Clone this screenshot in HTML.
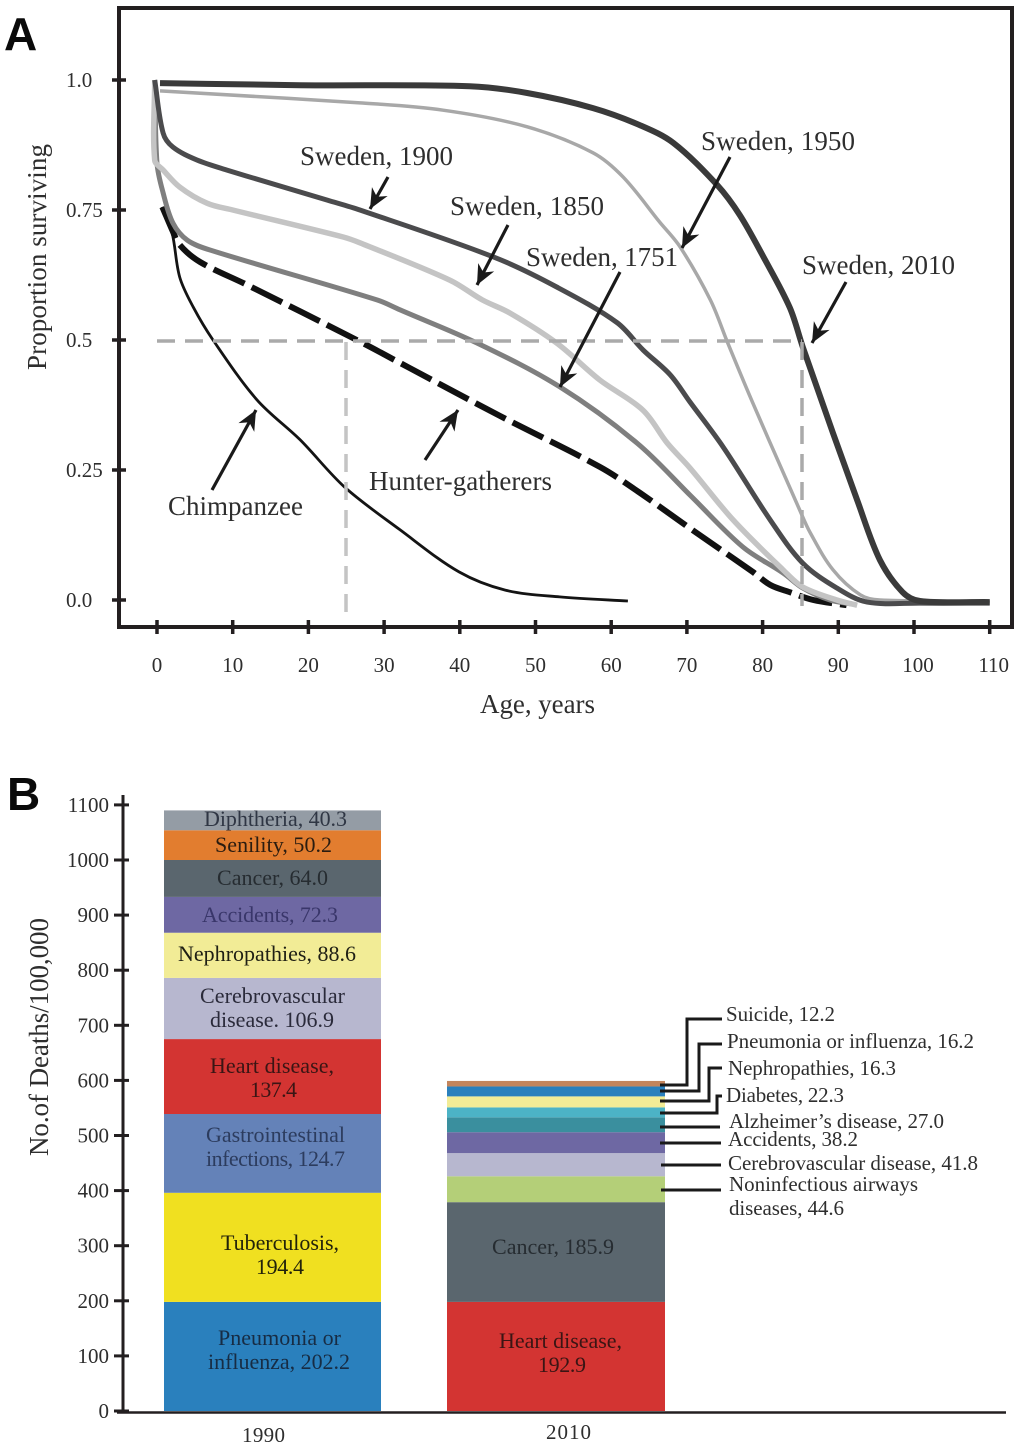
<!DOCTYPE html>
<html lang="en">
<head>
<meta charset="utf-8">
<title>Survival curves and causes of death</title>
<style>
html,body{margin:0;padding:0;background:#fff;}
svg{display:block;}
text{font-family:"Liberation Serif",serif;fill:#2e2e2e;}
.panel{font-family:"Liberation Sans",sans-serif;font-weight:bold;font-size:46px;fill:#0a0a0a;}
.lab{font-size:27px;}
.tick{font-size:21px;}
.bl{font-size:22px;}
.ann{font-size:21px;}
</style>
</head>
<body>
<svg id="fig" xmlns="http://www.w3.org/2000/svg" width="1020" height="1449" viewBox="0 0 1020 1449">
<defs>
<marker id="ah" markerUnits="userSpaceOnUse" markerWidth="26" markerHeight="22" refX="22" refY="11" orient="auto">
<path d="M22 11 L2 2 L8 11 L2 20 Z" fill="#1a1a1a"/>
</marker>
</defs>
<rect width="1020" height="1449" fill="#fff"/>

<text class="panel" x="4" y="50">A</text>
<text class="panel" x="7" y="810">B</text>

<!-- Panel A -->
<g id="panelA">
<rect x="119" y="8" width="893" height="619" fill="none" stroke="#231f20" stroke-width="4"/>
<g id="aTicks"></g>
<g id="aCurves"></g>
<line x1="157" y1="341" x2="802" y2="341" stroke="#aaa" stroke-width="3.5" stroke-dasharray="18 10"/>
<line x1="346" y1="342" x2="346" y2="612" stroke="#c4c4c4" stroke-width="3.5" stroke-dasharray="18 10"/>
<line x1="802" y1="342" x2="802" y2="606" stroke="#aaa" stroke-width="3.5" stroke-dasharray="18 10"/>

<g stroke="#1a1a1a" stroke-width="3.2">
<line x1="388" y1="177" x2="370" y2="209" marker-end="url(#ah)"/>
<line x1="508" y1="225" x2="477" y2="285" marker-end="url(#ah)"/>
<line x1="620" y1="272" x2="560" y2="387" marker-end="url(#ah)"/>
<line x1="730" y1="157" x2="682" y2="248" marker-end="url(#ah)"/>
<line x1="846" y1="282" x2="812" y2="343" marker-end="url(#ah)"/>
<line x1="425" y1="460" x2="458" y2="410" marker-end="url(#ah)"/>
<line x1="212" y1="490" x2="256" y2="410" marker-end="url(#ah)"/>
</g>

<text class="lab" x="300" y="165" textLength="153">Sweden, 1900</text>
<text class="lab" x="450" y="215" textLength="154">Sweden, 1850</text>
<text class="lab" x="526" y="266" textLength="152">Sweden, 1751</text>
<text class="lab" x="701" y="150" textLength="154">Sweden, 1950</text>
<text class="lab" x="802" y="274" textLength="153">Sweden, 2010</text>
<text class="lab" x="168" y="515" textLength="135">Chimpanzee</text>
<text class="lab" x="369" y="490" textLength="183">Hunter-gatherers</text>
<text class="lab" x="480" y="713" textLength="115">Age, years</text>
<text class="lab" transform="translate(46,370) rotate(-90)" textLength="226">Proportion surviving</text>
</g>

<!-- Panel B -->
<g id="panelB">
<g id="bBars"></g>
<g id="bTicks"></g>
<text class="lab" transform="translate(48,1156) rotate(-90)" textLength="238">No.of Deaths/100,000</text>
<text class="tick" x="242" y="1442" textLength="43">1990</text>
<text class="tick" x="546" y="1439" textLength="45">2010</text>

<g>
<text class="bl" style="fill:#2f3644" x="204" y="826" textLength="143">Diphtheria, 40.3</text>
<text class="bl" style="fill:#2a1c10" x="215" y="852" textLength="117">Senility, 50.2</text>
<text class="bl" style="fill:#262c31" x="217" y="885" textLength="111">Cancer, 64.0</text>
<text class="bl" style="fill:#39366a" x="202" y="922" textLength="136">Accidents, 72.3</text>
<text class="bl" style="fill:#1f1f14" x="178" y="961" textLength="178">Nephropathies, 88.6</text>
<text class="bl" style="fill:#2a2a3a" x="200" y="1003" textLength="145">Cerebrovascular</text>
<text class="bl" style="fill:#2a2a3a" x="210" y="1027" textLength="124">disease. 106.9</text>
<text class="bl" style="fill:#3a1514" x="210" y="1073" textLength="124">Heart disease,</text>
<text class="bl" style="fill:#3a1514" x="250" y="1097" textLength="47">137.4</text>
<text class="bl" style="fill:#2c3c5e" x="206" y="1142" textLength="139">Gastrointestinal</text>
<text class="bl" style="fill:#2c3c5e" x="206" y="1166" textLength="139">infections, 124.7</text>
<text class="bl" style="fill:#22220a" x="221" y="1250" textLength="118">Tuberculosis,</text>
<text class="bl" style="fill:#22220a" x="256" y="1274" textLength="48">194.4</text>
<text class="bl" style="fill:#172c44" x="218" y="1345" textLength="123">Pneumonia or</text>
<text class="bl" style="fill:#172c44" x="208" y="1369" textLength="142">influenza, 202.2</text>
</g>
<g>
<text class="bl" style="fill:#262c31" x="492" y="1254" textLength="122">Cancer, 185.9</text>
<text class="bl" style="fill:#3a1514" x="499" y="1348" textLength="123">Heart disease,</text>
<text class="bl" style="fill:#3a1514" x="538" y="1372" textLength="48">192.9</text>
</g>

<g fill="none" stroke="#1a1a1a" stroke-width="3">
<path d="M660 1085H687V1019H722"/>
<path d="M660 1091H699V1044H722"/>
<path d="M660 1101H709V1068H722"/>
<path d="M660 1113H717V1096H722"/>
<path d="M660 1127H720"/>
<path d="M660 1143H721"/>
<path d="M661 1165H721"/>
<path d="M661 1190H721"/>
</g>
<g>
<text class="ann" x="726" y="1021" textLength="109">Suicide, 12.2</text>
<text class="ann" x="727" y="1048" textLength="247">Pneumonia or influenza, 16.2</text>
<text class="ann" x="728" y="1075" textLength="168">Nephropathies, 16.3</text>
<text class="ann" x="726" y="1102" textLength="118">Diabetes, 22.3</text>
<text class="ann" x="729" y="1128" textLength="215">Alzheimer’s disease, 27.0</text>
<text class="ann" x="728" y="1146" textLength="130">Accidents, 38.2</text>
<text class="ann" x="728" y="1170" textLength="250">Cerebrovascular disease, 41.8</text>
<text class="ann" x="729" y="1191" textLength="189">Noninfectious airways</text>
<text class="ann" x="729" y="1215" textLength="115">diseases, 44.6</text>
</g>
</g>
</svg>

<script>
// Panel A data: age (years) and proportion surviving
const ageTicks = [0,10,20,30,40,50,60,70,80,90,100,110];
const survivalTicks = [1,0.75,0.5,0.25,0];
const survivalTickLabels = ["1.0","0.75","0.5","0.25","0.0"];

const chimpAges = [0.7,2,3,4.8,7.4,13.2,18.9,24.8,32.1,39.9,46,53.2,62.2];
const chimpValues = [0.756,0.706,0.621,0.563,0.5,0.385,0.308,0.217,0.135,0.054,0.019,0.006,-0.002];

const hunterAges = [0.7,2,3,5.7,11.9,26.4,32.1,45.3,58.5,63.8,70.4,78.7,81,83.6,86.7,91.1];
const hunterValues = [0.756,0.712,0.683,0.65,0.606,0.5,0.456,0.354,0.256,0.206,0.138,0.054,0.029,0.015,0,-0.01];

const s1751Ages = [-0.3,0,0.8,2.1,4,7,29.1,32.1,42.3,53.2,63.4,70.4,77.4,82.7,85.3,88.9,91.9];
const s1751Values = [1,0.84,0.783,0.725,0.692,0.673,0.577,0.558,0.494,0.41,0.302,0.202,0.102,0.052,0.023,0,-0.008];

const s1850Ages = [-0.3,-0.3,0.8,3,6.6,10,24.6,26.8,38.7,43,46.6,52.8,58.5,64.2,67.4,70.4,76.1,82.7,85.3,89.8,92.5];
const s1850Values = [1,0.846,0.827,0.794,0.763,0.75,0.698,0.687,0.615,0.577,0.552,0.494,0.423,0.365,0.302,0.254,0.154,0.058,0.025,0,-0.01];

const s1900Ages = [-0.3,0.8,2.1,5.3,9.2,22.5,26.8,44.4,52.8,60.8,64.2,67.8,70.4,74.8,81,85.3,89.8,93.8,100.8,110];
const s1900Values = [1,0.898,0.871,0.846,0.827,0.769,0.75,0.66,0.602,0.533,0.481,0.433,0.381,0.294,0.154,0.071,0.023,-0.004,-0.006,-0.006];

const s1950Ages = [0.4,26.8,37.8,48.9,57.6,61.6,66.4,69.1,73.1,75.4,78.7,84.9,86.3,89.3,92.9,95.5,110];
const s1950Values = [0.979,0.956,0.942,0.91,0.86,0.813,0.727,0.679,0.577,0.494,0.379,0.173,0.129,0.058,0.01,0,-0.002];

const s2010Ages = [0.4,18.9,41.3,48.9,57.6,63.8,68.2,74,77,80.1,83.6,85.3,89.3,92.5,95.5,98.5,100.8,110];
const s2010Values = [0.994,0.99,0.988,0.975,0.946,0.913,0.879,0.798,0.74,0.66,0.562,0.487,0.321,0.192,0.077,0.015,-0.002,-0.004];

// Panel B data: tick values and segment sizes as drawn in the picture (deaths per 100,000)
const deathTicks = [0,100,200,300,400,500,600,700,800,900,1000,1100];
const causes1990 = ["pneumonia","tuberculosis","gastrointestinal","heart-disease","cerebrovascular","nephropathies","accidents","cancer","senility","diphtheria"];
const drawn1990 = [198,198,143,136,111,82,65,67,54,36];
const colors1990 = ["#2a80bd","#f0e020","#6482b8","#d33432","#b7b7cf","#f2ec96","#6e68a3","#5a666e","#e27d2f","#949ca5"];
const causes2010 = ["heart-disease","cancer","noninfectious-airways","cerebrovascular","accidents","alzheimers","diabetes","nephropathies","pneumonia","suicide"];
const drawn2010 = [198,181,47,42,38,27,18,20,18,10];
const colors2010 = ["#d33432","#5a666e","#b4cf78","#b7b7cf","#6e68a3","#3a8f9e","#4cb3c6","#f2ec96","#2a80bd","#c4855c"];

const NS = "http://www.w3.org/2000/svg";
const xA = a => 157 + 7.57 * a;
const yA = p => 600 - 520 * p;
const yB = v => 1411 - 0.551 * v;

function mk(tag, attrs, parent) {
  const el = document.createElementNS(NS, tag);
  for (const k in attrs) el.setAttribute(k, attrs[k]);
  parent.appendChild(el);
  return el;
}

// Smooth curve whose handle length follows each segment, so uneven spacing does not wobble
function smoothPath(pts) {
  const tan = pts.map(function (p, i) {
    const a = pts[Math.max(i - 1, 0)], b = pts[Math.min(i + 1, pts.length - 1)];
    const dx = b[0] - a[0], dy = b[1] - a[1], n = Math.hypot(dx, dy) || 1;
    return [dx / n, dy / n];
  });
  let d = "M" + pts[0][0].toFixed(1) + " " + pts[0][1].toFixed(1);
  for (let i = 0; i < pts.length - 1; i++) {
    const p1 = pts[i], p2 = pts[i + 1];
    const s = Math.hypot(p2[0] - p1[0], p2[1] - p1[1]) / 3;
    d += " C" + (p1[0] + tan[i][0] * s).toFixed(1) + " " + (p1[1] + tan[i][1] * s).toFixed(1) +
         " " + (p2[0] - tan[i + 1][0] * s).toFixed(1) + " " + (p2[1] - tan[i + 1][1] * s).toFixed(1) +
         " " + p2[0].toFixed(1) + " " + p2[1].toFixed(1);
  }
  return d;
}

const aTicks = document.getElementById("aTicks");
ageTicks.forEach(function (a) {
  const t = mk("line", {x1: xA(a), x2: xA(a), y1: 620, y2: 634, stroke: "#231f20", "stroke-width": 3.5}, aTicks);
  
  
  const l = mk("text", {x: xA(a) + (a >= 100 ? 4 : 0), y: 672, "text-anchor": "middle", "class": "tick"}, aTicks);
  
  
  l.textContent = String(a);
});
survivalTicks.forEach(function (p, i) {
  const t = mk("line", {x1: 112, x2: 126, y1: yA(p), y2: yA(p), stroke: "#231f20", "stroke-width": 3.5}, aTicks);
  
  
  const l = mk("text", {x: 66, y: yA(p) + 7, "class": "tick"}, aTicks);
  
  
  l.textContent = survivalTickLabels[i];
});

const curveHost = document.getElementById("aCurves");
function drawCurve(name, ages, values, color, width, dash) {
  const pts = ages.map(function (a, i) { return [xA(a), yA(values[i])]; });
  const el = mk("path", {d: smoothPath(pts), fill: "none", stroke: color, "stroke-width": width, "stroke-linejoin": "round"}, curveHost);
  if (dash) el.setAttribute("stroke-dasharray", dash);
  
  
}
drawCurve("curve-chimpanzee", chimpAges, chimpValues, "#141414", 2.8);
drawCurve("curve-hunter-gatherers", hunterAges, hunterValues, "#111", 6, "34 8");
drawCurve("curve-sweden-1751", s1751Ages, s1751Values, "#7f7f7f", 5);
drawCurve("curve-sweden-1850", s1850Ages, s1850Values, "#c4c4c4", 5.5);
drawCurve("curve-sweden-1950", s1950Ages, s1950Values, "#a8a8a8", 3.5);
drawCurve("curve-sweden-1900", s1900Ages, s1900Values, "#4b4b4d", 5);
drawCurve("curve-sweden-2010", s2010Ages, s2010Values, "#3a3a3a", 6);

const barHost = document.getElementById("bBars");
function drawStack(year, left, width, causes, values, colors) {
  let sum = 0;
  values.forEach(function (v, i) {
    const top = yB(sum + v), bottom = yB(sum);
    const r = mk("rect", {x: left, y: top, width: width, height: bottom - top, fill: colors[i]}, barHost);
    
    
    sum += v;
  });
}
drawStack(1990, 164, 217, causes1990, drawn1990, colors1990);
drawStack(2010, 447, 218, causes2010, drawn2010, colors2010);

const bTicks = document.getElementById("bTicks");
const yAxisB = mk("line", {x1: 123, x2: 123, y1: 795, y2: 1413, stroke: "#231f20", "stroke-width": 3}, bTicks);


const xAxisB = mk("line", {x1: 117, x2: 1006, y1: 1412.5, y2: 1412.5, stroke: "#231f20", "stroke-width": 2.5}, bTicks);


deathTicks.forEach(function (v) {
  const t = mk("line", {x1: 114, x2: 129, y1: yB(v), y2: yB(v), stroke: "#231f20", "stroke-width": 3}, bTicks);
  
  
  const l = mk("text", {x: 109, y: yB(v) + 7, "text-anchor": "end", "class": "tick"}, bTicks);
  
  
  l.textContent = String(v);
});
</script>
</body>
</html>
